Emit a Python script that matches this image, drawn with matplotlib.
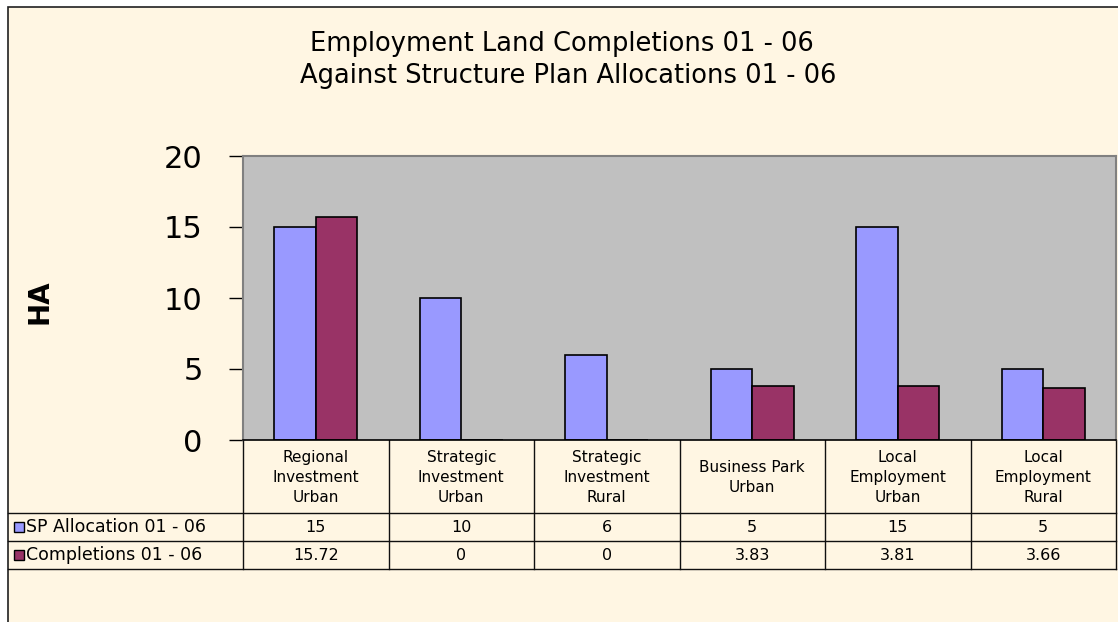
import matplotlib
matplotlib.use("Agg")
import matplotlib.pyplot as plt
from matplotlib.transforms import blended_transform_factory
from matplotlib.patches import Rectangle
import numpy as np

# data
categories = ["Regional\nInvestment\nUrban", "Strategic\nInvestment\nUrban",
              "Strategic\nInvestment\nRural", "Business Park\nUrban",
              "Local\nEmployment\nUrban", "Local\nEmployment\nRural"]
series_names = ["SP Allocation 01 - 06", "Completions 01 - 06"]
sp_allocation = [15, 10, 6, 5, 15, 5]
completions = [15.72, 0, 0, 3.83, 3.81, 3.66]
yticks = [0, 5, 10, 15, 20]
colors = ["#9999FF", "#993366"]

W, H = 1118, 622
cream = "#FFF6E3"
font = "DejaVu Sans"

fig = plt.figure(figsize=(W / 100, H / 100), dpi=100)
fig.patch.set_facecolor("white")

# overlay in pixel coordinates (for chart area, table lines, title)
bg = fig.add_axes([0, 0, 1, 1], zorder=0)
bg.set_xlim(0, W)
bg.set_ylim(H, 0)
bg.axis("off")
bg.add_patch(Rectangle((8, 7), W, H, facecolor=cream, edgecolor="#202020", lw=1.2))

# plot area
L, R, T, B = 243, 1116, 156, 440
ax = fig.add_axes([L / W, 1 - B / H, (R - L) / W, (B - T) / H], zorder=2)
ax.set_facecolor("#C0C0C0")
x = np.arange(len(categories))
bw = 0.285
ax.bar(x - bw / 2, sp_allocation, bw, color=colors[0], edgecolor="black", linewidth=1.2)
ax.bar(x + bw / 2, completions, bw, color=colors[1], edgecolor="black", linewidth=1.2)
ax.set_xlim(-0.5, len(categories) - 0.5)
ax.set_ylim(0, 20)
ax.set_yticks(yticks)
ax.set_yticklabels([str(v) for v in yticks], fontsize=22, family=font)
ax.set_xticks([])
ax.tick_params(axis="y", direction="out", length=10, width=1, pad=19, color="black")
for s in ["top", "right", "left"]:
    ax.spines[s].set_color("#808080")
    ax.spines[s].set_linewidth(1.5)
ax.spines["bottom"].set_color("black")
ax.spines["bottom"].set_linewidth(1.2)

# y label and title
bg.text(39, 302, "HA", rotation=90, ha="center", va="center",
        fontsize=20, fontweight="bold", family=font)
bg.text(562, 44, "Employment Land Completions 01 - 06", ha="center", va="center",
        fontsize=18.5, family=font)
bg.text(568, 76, "Against Structure Plan Allocations 01 - 06", ha="center", va="center",
        fontsize=18.5, family=font)

# data table below the plot: x from ax data coords, y in pixels
tr = blended_transform_factory(ax.transData, bg.transData)
rows_y = [440, 513, 541, 569]
lc = "#101010"
n = len(categories)
for yy in rows_y[1:]:
    bg.plot([8, R], [yy, yy], color=lc, lw=1.0)
for i in range(n + 1):
    bg.plot([i - 0.5, i - 0.5], [rows_y[0], rows_y[-1]], color=lc, lw=1.0, transform=tr)
for i, cat in enumerate(categories):
    bg.text(i, (rows_y[0] + rows_y[1]) / 2 + 1, cat, transform=tr, ha="center", va="center",
            fontsize=11, family=font, linespacing=1.4)
for r, vals in enumerate([sp_allocation, completions]):
    yc = (rows_y[r + 1] + rows_y[r + 2]) / 2
    for i, v in enumerate(vals):
        bg.text(i, yc, f"{v:g}", transform=tr, ha="center", va="center",
                fontsize=11.5, family=font)
    bg.add_patch(Rectangle((14, yc - 5), 10, 10, facecolor=colors[r], edgecolor="black", lw=1))
    bg.text(26, yc, series_names[r], ha="left", va="center", fontsize=12.5, family=font)

fig.savefig("out.png", dpi=100, facecolor=fig.get_facecolor())
